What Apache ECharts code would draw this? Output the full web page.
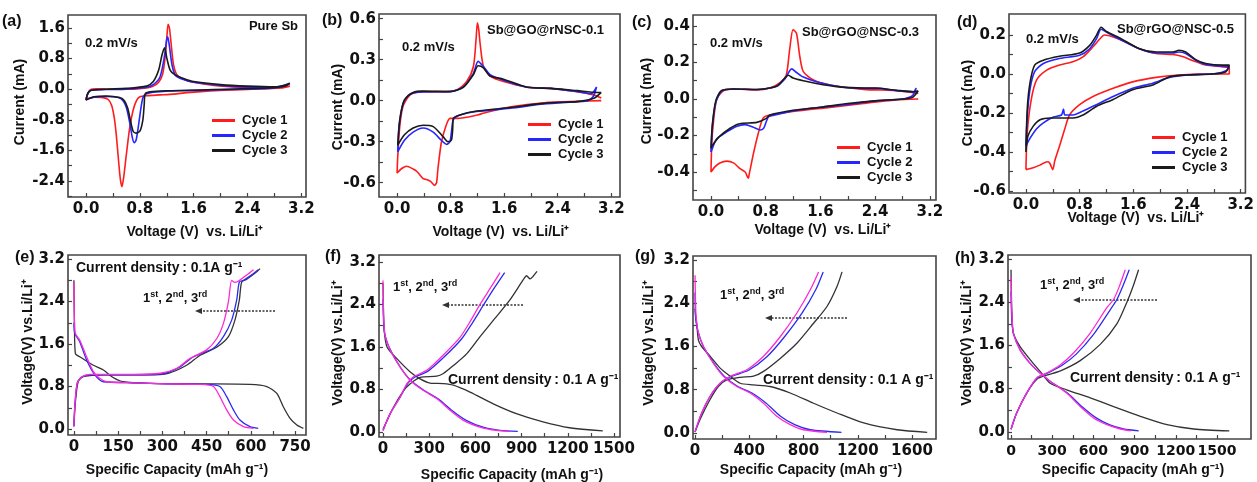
<!DOCTYPE html>
<html>
<head>
<meta charset="utf-8">
<script src="https://cdn.jsdelivr.net/npm/echarts@6/dist/echarts.min.js"></script>
<style>
  html, body { margin: 0; background: #fff; }
  #main { width: 1257px; height: 482px; }
</style>
</head>
<body>
<div id="main"></div>
<script>
// ---- CV curves: [voltage (V), current (mA)] ----
var aCycle1 = [[3.03,0.08],[2.9,0.03],[2.6,0.01],[2.2,-0.02],[1.8,-0.05],[1.5,-0.09],[1.3,-0.13],[1.1,-0.15],[0.9,-0.17],[0.8,-0.2],[0.75,-0.3],[0.7,-0.55],[0.65,-1.0],[0.6,-1.7],[0.56,-2.3],[0.535,-2.55],[0.51,-2.35],[0.48,-1.8],[0.45,-1.2],[0.42,-0.75],[0.38,-0.42],[0.33,-0.27],[0.25,-0.22],[0.12,-0.21],[0.0,-0.26],[0.03,-0.1],[0.07,-0.01],[0.15,0.01],[0.4,0.0],[0.7,0.0],[0.9,0.03],[1.0,0.08],[1.08,0.18],[1.14,0.4],[1.18,0.9],[1.205,1.45],[1.22,1.7],[1.24,1.6],[1.27,1.1],[1.3,0.65],[1.35,0.38],[1.45,0.26],[1.6,0.18],[1.9,0.1],[2.3,0.05],[2.7,0.03],[2.95,0.05],[3.03,0.08]];
var aCycle2 = [[3.03,0.16],[2.95,0.08],[2.7,0.02],[2.3,0.0],[1.9,-0.02],[1.5,-0.04],[1.2,-0.05],[1.0,-0.08],[0.9,-0.12],[0.85,-0.2],[0.82,-0.45],[0.78,-0.95],[0.745,-1.33],[0.72,-1.4],[0.69,-1.28],[0.65,-0.88],[0.6,-0.48],[0.55,-0.3],[0.48,-0.22],[0.3,-0.19],[0.12,-0.21],[0.0,-0.28],[0.03,-0.1],[0.08,-0.03],[0.3,-0.01],[0.6,0.0],[0.9,0.05],[1.0,0.12],[1.1,0.32],[1.16,0.8],[1.2,1.3],[1.215,1.37],[1.24,1.12],[1.28,0.62],[1.33,0.36],[1.45,0.25],[1.6,0.18],[2.0,0.1],[2.4,0.06],[2.8,0.05],[2.95,0.1],[3.03,0.16]];
var aCycle3 = [[3.03,0.15],[2.95,0.08],[2.7,0.03],[2.3,0.01],[1.9,-0.01],[1.5,-0.03],[1.2,-0.04],[0.95,-0.07],[0.88,-0.12],[0.865,-0.4],[0.845,-0.8],[0.8,-1.1],[0.74,-1.15],[0.7,-1.1],[0.66,-0.82],[0.62,-0.5],[0.57,-0.3],[0.5,-0.22],[0.3,-0.18],[0.12,-0.2],[0.0,-0.28],[0.03,-0.1],[0.08,-0.03],[0.3,0.0],[0.6,0.02],[0.9,0.08],[1.0,0.2],[1.08,0.5],[1.13,0.9],[1.17,1.08],[1.2,0.82],[1.25,0.5],[1.32,0.38],[1.45,0.28],[1.6,0.2],[2.0,0.12],[2.4,0.08],[2.8,0.06],[2.95,0.1],[3.03,0.15]];

var bCycle1 = [[3.05,0.0],[2.7,-0.005],[2.2,-0.015],[1.7,-0.045],[1.3,-0.09],[1.2,-0.105],[0.9,-0.13],[0.79,-0.13],[0.72,-0.2],[0.66,-0.31],[0.61,-0.5],[0.59,-0.6],[0.56,-0.62],[0.5,-0.59],[0.46,-0.58],[0.39,-0.57],[0.3,-0.52],[0.24,-0.5],[0.14,-0.48],[0.06,-0.5],[0.0,-0.53],[0.01,-0.41],[0.04,-0.19],[0.09,-0.04],[0.19,0.04],[0.34,0.066],[0.69,0.066],[0.89,0.078],[1.04,0.14],[1.14,0.25],[1.18,0.45],[1.2,0.57],[1.22,0.52],[1.24,0.42],[1.29,0.25],[1.39,0.18],[1.59,0.14],[1.94,0.1],[2.29,0.09],[2.69,0.066],[2.95,0.04],[3.05,0.02]];
var bCycle2 = [[2.98,0.1],[2.93,0.03],[2.85,0.0],[2.69,-0.007],[2.19,-0.025],[1.69,-0.056],[1.19,-0.08],[0.94,-0.105],[0.84,-0.14],[0.81,-0.24],[0.79,-0.3],[0.74,-0.32],[0.66,-0.29],[0.54,-0.23],[0.39,-0.2],[0.24,-0.23],[0.11,-0.29],[0.01,-0.375],[0.03,-0.19],[0.09,-0.02],[0.19,0.047],[0.39,0.064],[0.79,0.066],[0.99,0.1],[1.14,0.2],[1.21,0.287],[1.29,0.25],[1.39,0.19],[1.59,0.15],[1.94,0.098],[2.29,0.09],[2.69,0.066],[2.9,0.05],[2.98,0.1]];
var bCycle3 = [[3.05,0.06],[2.95,0.02],[2.8,0.0],[2.69,-0.007],[2.19,-0.02],[1.69,-0.05],[1.19,-0.076],[0.94,-0.105],[0.84,-0.13],[0.83,-0.215],[0.81,-0.29],[0.76,-0.3],[0.69,-0.265],[0.54,-0.19],[0.39,-0.18],[0.24,-0.2],[0.11,-0.25],[0.01,-0.326],[0.04,-0.14],[0.11,0.005],[0.24,0.06],[0.39,0.07],[0.79,0.066],[0.99,0.098],[1.14,0.19],[1.21,0.255],[1.29,0.24],[1.39,0.18],[1.59,0.157],[1.94,0.098],[2.29,0.09],[2.69,0.073],[2.99,0.06],[3.05,0.06]];

var cCycle1 = [[3.03,0.0],[2.71,-0.005],[2.23,-0.024],[1.74,-0.046],[1.25,-0.066],[0.86,-0.088],[0.76,-0.106],[0.69,-0.19],[0.62,-0.3],[0.56,-0.41],[0.545,-0.434],[0.5,-0.4],[0.42,-0.38],[0.33,-0.35],[0.23,-0.34],[0.13,-0.35],[0.06,-0.37],[0.0,-0.4],[0.01,-0.26],[0.03,-0.15],[0.08,-0.005],[0.18,0.045],[0.33,0.055],[0.67,0.05],[0.86,0.06],[1.01,0.09],[1.1,0.13],[1.15,0.27],[1.2,0.38],[1.25,0.36],[1.3,0.23],[1.35,0.15],[1.5,0.104],[1.74,0.077],[2.23,0.053],[2.71,0.046],[2.95,0.035],[3.03,0.03]];
var cCycle2 = [[3.0,0.06],[2.95,0.02],[2.8,0.0],[2.4,-0.01],[2.0,-0.03],[1.6,-0.045],[1.2,-0.065],[0.9,-0.09],[0.84,-0.097],[0.8,-0.133],[0.77,-0.16],[0.72,-0.17],[0.62,-0.155],[0.5,-0.14],[0.37,-0.15],[0.23,-0.18],[0.08,-0.22],[0.01,-0.28],[0.0,-0.29],[0.02,-0.15],[0.07,-0.02],[0.16,0.045],[0.33,0.055],[0.67,0.052],[0.96,0.07],[1.08,0.11],[1.18,0.165],[1.25,0.145],[1.35,0.12],[1.54,0.095],[1.84,0.07],[2.23,0.058],[2.42,0.058],[2.71,0.046],[2.96,0.04],[3.0,0.06]];
var cCycle3 = [[3.03,0.045],[2.95,0.01],[2.8,0.0],[2.4,-0.01],[2.0,-0.025],[1.6,-0.045],[1.2,-0.062],[0.86,-0.088],[0.81,-0.106],[0.67,-0.128],[0.42,-0.135],[0.28,-0.16],[0.11,-0.21],[0.01,-0.26],[0.0,-0.27],[0.02,-0.14],[0.07,-0.01],[0.15,0.045],[0.33,0.055],[0.67,0.052],[0.96,0.07],[1.08,0.115],[1.13,0.13],[1.2,0.115],[1.35,0.1],[1.54,0.085],[1.84,0.068],[2.23,0.06],[2.4,0.06],[2.71,0.048],[2.96,0.04],[3.03,0.045]];

var dCycle1 = [[0.0,-0.49],[0.02,-0.3],[0.08,-0.13],[0.16,-0.03],[0.31,0.02],[0.5,0.046],[0.7,0.063],[0.85,0.088],[1.0,0.14],[1.1,0.18],[1.17,0.2],[1.3,0.19],[1.49,0.164],[1.69,0.13],[1.94,0.105],[2.19,0.1],[2.33,0.09],[2.48,0.07],[2.68,0.046],[2.93,0.037],[3.03,0.03],[3.03,0.0],[2.68,0.0],[2.28,-0.005],[1.94,-0.017],[1.59,-0.04],[1.3,-0.073],[1.0,-0.115],[0.8,-0.157],[0.65,-0.21],[0.58,-0.28],[0.5,-0.37],[0.43,-0.445],[0.4,-0.49],[0.36,-0.46],[0.33,-0.45],[0.26,-0.457],[0.21,-0.467],[0.11,-0.48],[0.0,-0.49]];
var dCycle2 = [[0.0,-0.37],[0.02,-0.22],[0.06,-0.08],[0.13,0.012],[0.26,0.054],[0.5,0.08],[0.8,0.096],[0.95,0.13],[1.05,0.18],[1.12,0.23],[1.2,0.215],[1.39,0.18],[1.69,0.13],[1.94,0.108],[2.19,0.108],[2.28,0.113],[2.38,0.105],[2.53,0.071],[2.68,0.049],[2.93,0.04],[3.03,0.037],[2.98,0.017],[2.83,0.003],[2.43,-0.005],[2.14,-0.017],[1.89,-0.047],[1.59,-0.073],[1.3,-0.115],[1.05,-0.157],[0.85,-0.19],[0.7,-0.21],[0.58,-0.21],[0.56,-0.18],[0.53,-0.21],[0.41,-0.22],[0.26,-0.25],[0.16,-0.28],[0.06,-0.33],[0.0,-0.37]];
var dCycle3 = [[0.0,-0.4],[0.02,-0.18],[0.06,-0.047],[0.13,0.046],[0.26,0.071],[0.5,0.091],[0.8,0.108],[0.95,0.147],[1.05,0.198],[1.12,0.24],[1.2,0.218],[1.39,0.186],[1.69,0.13],[1.94,0.113],[2.19,0.113],[2.28,0.122],[2.38,0.113],[2.53,0.074],[2.68,0.054],[2.93,0.046],[3.03,0.046],[2.98,0.012],[2.78,0.0],[2.38,-0.005],[2.14,-0.014],[1.89,-0.056],[1.59,-0.08],[1.3,-0.13],[1.05,-0.166],[0.85,-0.21],[0.7,-0.225],[0.55,-0.225],[0.36,-0.225],[0.21,-0.234],[0.11,-0.267],[0.03,-0.318],[0.0,-0.4]];

// ---- charge/discharge curves: [capacity (mAh/g), voltage (V)] ----
var eDis1 = [[0,2.8],[2,1.9],[5,1.42],[20,1.36],[66,1.2],[100,1.11],[133,0.97],[167,0.89],[258,0.86],[428,0.85],[597,0.84],[654,0.8],[688,0.67],[710,0.42],[733,0.2],[756,0.075],[778,0.013]];
var eCha1 = [[0,0.05],[5,0.5],[15,0.9],[35,0.99],[100,1.02],[250,1.02],[320,1.05],[382,1.2],[428,1.39],[484,1.54],[524,1.74],[546,2.05],[561,2.43],[569,2.77],[586,2.82],[620,2.96],[631,3.02]];
var eDis2 = [[0,2.0],[3,1.8],[20,1.64],[43,1.3],[71,1.02],[100,0.89],[201,0.87],[314,0.85],[450,0.84],[495,0.8],[518,0.61],[541,0.36],[563,0.17],[597,0.044],[625,0.013]];
var eCha2 = [[0,0.05],[3,0.42],[11,0.86],[26,0.98],[60,1.02],[201,1.02],[300,1.04],[360,1.17],[405,1.36],[473,1.52],[507,1.74],[535,2.05],[552,2.43],[561,2.77],[575,2.8],[609,2.93],[625,3.0]];
var eDis3 = [[0,2.77],[2,2.0],[5,1.8],[20,1.67],[43,1.36],[66,1.08],[88,0.95],[111,0.89],[201,0.87],[314,0.85],[428,0.84],[473,0.8],[495,0.61],[518,0.36],[541,0.17],[575,0.044],[609,0.013]];
var eCha3 = [[0,0.05],[3,0.42],[11,0.86],[26,0.98],[54,1.03],[201,1.03],[292,1.05],[348,1.14],[394,1.33],[450,1.49],[484,1.7],[507,1.99],[524,2.4],[535,2.8],[546,2.76],[586,2.9],[609,3.0]];

var fDis1 = [[0,2.8],[3,2.3],[8,1.9],[26,1.6],[90,1.38],[177,1.13],[241,1.0],[306,0.92],[392,0.91],[457,0.88],[565,0.75],[716,0.53],[866,0.345],[1039,0.19],[1211,0.08],[1427,0.02]];
var fCha1 = [[0,0.05],[69,0.47],[134,0.78],[177,0.91],[241,1.03],[349,1.05],[392,1.1],[457,1.25],[543,1.47],[629,1.79],[716,2.1],[823,2.48],[910,2.86],[932,2.94],[955,2.88],[975,2.93],[1000,3.02]];
var fDis2 = [[0,2.5],[5,2.0],[15,1.8],[47,1.55],[112,1.22],[177,0.98],[263,0.79],[360,0.62],[450,0.4],[540,0.22],[650,0.09],[760,0.03],[875,0.012]];
var fCha2 = [[0,0.03],[47,0.35],[112,0.66],[160,0.91],[205,1.03],[290,1.14],[400,1.42],[510,1.75],[580,2.05],[655,2.4],[725,2.72],[790,3.0]];
var fDis3 = [[0,2.85],[2,2.4],[5,2.1],[15,1.79],[47,1.54],[112,1.22],[177,0.97],[263,0.78],[349,0.63],[435,0.41],[522,0.22],[629,0.094],[737,0.03],[823,0.013]];
var fCha3 = [[0,0.03],[47,0.35],[112,0.66],[155,0.91],[198,1.04],[284,1.16],[392,1.45],[500,1.78],[560,2.05],[630,2.4],[700,2.72],[760,3.0]];

var gDis1 = [[0,2.3],[5,2.15],[12,2.03],[25,1.72],[49,1.6],[111,1.42],[185,1.2],[259,1.05],[333,0.92],[431,0.89],[554,0.86],[702,0.74],[874,0.55],[1047,0.37],[1244,0.185],[1490,0.06],[1712,0.012]];
var gCha1 = [[0,0.02],[37,0.25],[111,0.62],[172,0.86],[234,0.98],[333,1.03],[431,1.05],[505,1.14],[628,1.38],[751,1.66],[874,2.03],[973,2.34],[1047,2.71],[1084,2.98]];
var gDis2 = [[0,2.6],[5,2.1],[25,1.85],[62,1.6],[135,1.3],[215,1.05],[315,0.86],[420,0.74],[525,0.55],[630,0.31],[735,0.154],[850,0.06],[1080,0.012]];
var gCha2 = [[0,0.02],[49,0.37],[111,0.68],[185,0.92],[262,1.04],[395,1.16],[530,1.41],[660,1.78],[790,2.22],[890,2.65],[945,2.98]];
var gDis3 = [[0,2.92],[3,2.5],[8,2.15],[25,1.85],[62,1.6],[135,1.29],[209,1.05],[308,0.86],[406,0.74],[505,0.55],[603,0.31],[702,0.154],[800,0.06],[973,0.012]];
var gCha3 = [[0,0.02],[49,0.37],[111,0.68],[185,0.92],[259,1.05],[382,1.17],[505,1.42],[628,1.78],[751,2.22],[850,2.65],[911,2.98]];

var hDis1 = [[0,3.0],[3,2.5],[8,2.1],[17,1.83],[66,1.58],[139,1.34],[212,1.12],[285,0.9],[406,0.78],[577,0.63],[747,0.47],[942,0.29],[1136,0.135],[1331,0.055],[1590,0.02]];
var hCha1 = [[0,0.05],[41,0.35],[114,0.72],[190,0.98],[260,1.05],[360,1.13],[504,1.32],[650,1.62],[771,2.0],[844,2.4],[890,2.7],[929,3.0]];
var hDis2 = [[0,2.6],[5,2.1],[17,1.83],[66,1.52],[139,1.27],[215,1.08],[290,0.93],[415,0.71],[520,0.46],[620,0.26],[720,0.13],[820,0.055],[930,0.02]];
var hCha2 = [[0,0.05],[41,0.35],[114,0.72],[190,1.0],[265,1.09],[370,1.23],[475,1.44],[600,1.8],[720,2.25],[771,2.45],[815,2.7],[861,3.0]];
var hDis3 = [[0,2.87],[3,2.4],[8,2.1],[17,1.83],[66,1.52],[139,1.27],[212,1.09],[285,0.94],[406,0.72],[504,0.47],[601,0.26],[698,0.135],[796,0.055],[873,0.02]];
var hCha3 = [[0,0.05],[41,0.35],[114,0.72],[187,1.0],[260,1.09],[358,1.24],[455,1.46],[577,1.83],[698,2.3],[747,2.45],[790,2.7],[832,3.0]];

// ---- ticks and tick labels ----
var cvXTicks = [0, 0.4, 0.8, 1.2, 1.6, 2.0, 2.4, 2.8, 3.2];
var cvXLabels = [0, 0.8, 1.6, 2.4, 3.2];
var aYTicks = [-2.8, -2.4, -2.0, -1.6, -1.2, -0.8, -0.4, 0, 0.4, 0.8, 1.2, 1.6];
var aYLabels = [-2.4, -1.6, -0.8, 0, 0.8, 1.6];
var bYTicks = [-0.6, -0.45, -0.3, -0.15, 0, 0.15, 0.3, 0.45, 0.6];
var bYLabels = [-0.6, -0.3, 0, 0.3, 0.6];
var cYTicks = [-0.5, -0.4, -0.3, -0.2, -0.1, 0, 0.1, 0.2, 0.3, 0.4];
var cYLabels = [-0.4, -0.2, 0, 0.2, 0.4];
var dYTicks = [-0.6, -0.5, -0.4, -0.3, -0.2, -0.1, 0, 0.1, 0.2];
var dYLabels = [-0.6, -0.4, -0.2, 0, 0.2];
var gcdYTicks = [0, 0.4, 0.8, 1.2, 1.6, 2.0, 2.4, 2.8, 3.2];
var gcdYLabels = [0, 0.8, 1.6, 2.4, 3.2];
var eXTicks = [0, 75, 150, 225, 300, 375, 450, 525, 600, 675, 750];
var eXLabels = [0, 150, 300, 450, 600, 750];
var fXTicks = [0, 150, 300, 450, 600, 750, 900, 1050, 1200, 1350, 1500];
var fXLabels = [0, 300, 600, 900, 1200, 1500];
var gXTicks = [0, 200, 400, 600, 800, 1000, 1200, 1400, 1600];
var gXLabels = [0, 400, 800, 1200, 1600];

var RED = '#ff1c1c', BLUE = '#2626ff', BLACK = '#1a1a1a';
var PINK = '#ff2ad4', GBLUE = '#2b2bf0', GBLACK = '#333333';

var chart = echarts.init(document.getElementById('main'));

var panels = [
  { rect: [68, 15, 238, 182], x: [-0.268, 3.27], y: [-2.82, 1.94], xt: cvXTicks, xl: cvXLabels, yt: aYTicks, yl: aYLabels, cv: true,
    lines: [[aCycle1, RED, 'Cycle 1'], [aCycle2, BLUE, 'Cycle 2'], [aCycle3, BLACK, 'Cycle 3']] },
  { rect: [379, 14, 241, 183], x: [-0.27, 3.33], y: [-0.705, 0.634], xt: cvXTicks, xl: cvXLabels, yt: bYTicks, yl: bYLabels, cv: true,
    lines: [[bCycle1, RED, 'Cycle 1'], [bCycle2, BLUE, 'Cycle 2'], [bCycle3, BLACK, 'Cycle 3']] },
  { rect: [693, 15, 243, 185], x: [-0.263, 3.29], y: [-0.553, 0.46], xt: cvXTicks, xl: cvXLabels, yt: cYTicks, yl: cYLabels, cv: true,
    lines: [[cCycle1, RED, 'Cycle 1'], [cCycle2, BLUE, 'Cycle 2'], [cCycle3, BLACK, 'Cycle 3']] },
  { rect: [1009, 14, 238, 179], x: [-0.252, 3.27], y: [-0.61, 0.308], xt: cvXTicks, xl: cvXLabels, yt: dYTicks, yl: dYLabels, cv: true,
    lines: [[dCycle1, RED, 'Cycle 1'], [dCycle2, BLUE, 'Cycle 2'], [dCycle3, BLACK, 'Cycle 3']] },
  { rect: [68, 255, 238, 180], x: [-20, 787], y: [-0.113, 3.277], xt: eXTicks, xl: eXLabels, yt: gcdYTicks, yl: gcdYLabels,
    lines: [[eDis1, GBLACK, '1st'], [eCha1, GBLACK, '1st'], [eDis2, GBLUE, '2nd'], [eCha2, GBLUE, '2nd'], [eDis3, PINK, '3rd'], [eCha3, PINK, '3rd']] },
  { rect: [379, 255, 241, 182], x: [-26, 1539], y: [-0.094, 3.33], xt: fXTicks, xl: fXLabels, yt: gcdYTicks, yl: gcdYLabels,
    lines: [[fDis1, GBLACK, '1st'], [fCha1, GBLACK, '1st'], [fDis2, GBLUE, '2nd'], [fCha2, GBLUE, '2nd'], [fDis3, PINK, '3rd'], [fCha3, PINK, '3rd']] },
  { rect: [693, 256, 243, 183], x: [-15, 1777], y: [-0.111, 3.274], xt: gXTicks, xl: gXLabels, yt: gcdYTicks, yl: gcdYLabels,
    lines: [[gDis1, GBLACK, '1st'], [gCha1, GBLACK, '1st'], [gDis2, GBLUE, '2nd'], [gCha2, GBLUE, '2nd'], [gDis3, PINK, '3rd'], [gCha3, PINK, '3rd']] },
  { rect: [1008, 255, 243, 184], x: [-22, 1748], y: [-0.13, 3.274], xt: fXTicks, xl: fXLabels, yt: gcdYTicks, yl: gcdYLabels, xfs: 14,
    lines: [[hDis1, GBLACK, '1st'], [hCha1, GBLACK, '1st'], [hDis2, GBLUE, '2nd'], [hCha2, GBLUE, '2nd'], [hDis3, PINK, '3rd'], [hCha3, PINK, '3rd']] }
];

var grids = [], xAxes = [], yAxes = [], series = [];
var tickFont = { fontFamily: 'DejaVu Sans', fontWeight: 'bold', fontSize: 15, color: '#111' };

panels.forEach(function (p, i) {
  grids.push({ left: p.rect[0], top: p.rect[1], width: p.rect[2], height: p.rect[3],
    show: true, borderColor: '#444', borderWidth: 1.6, backgroundColor: 'transparent' });
  xAxes.push({
    type: 'value', gridIndex: i, min: p.x[0], max: p.x[1], position: 'bottom',
    axisLine: { show: false, onZero: false }, splitLine: { show: false },
    axisTick: { show: true, inside: true, length: 4, customValues: p.xt, lineStyle: { color: '#444', width: 1.2 } },
    axisLabel: Object.assign({}, tickFont, { customValues: p.xl, margin: 5, hideOverlap: false,
      fontSize: p.xfs || 15,
      formatter: function (v) { return p.cv ? v.toFixed(1) : String(Math.round(v)); } })
  });
  yAxes.push({
    type: 'value', gridIndex: i, min: p.y[0], max: p.y[1], position: 'left',
    axisLine: { show: false, onZero: false }, splitLine: { show: false },
    axisTick: { show: true, inside: true, length: 4, customValues: p.yt, lineStyle: { color: '#444', width: 1.2 } },
    axisLabel: Object.assign({}, tickFont, { customValues: p.yl, margin: 3,
      formatter: function (v) { return v.toFixed(1); } })
  });
  p.lines.forEach(function (l) {
    series.push({
      type: 'line', name: l[2], xAxisIndex: i, yAxisIndex: i, data: l[0],
      showSymbol: false, symbol: 'none', smooth: 0.25, silent: true,
      lineStyle: { color: l[1], width: p.cv ? 1.6 : 1.3 }, itemStyle: { color: l[1] }
    });
  });
});

var BF = 'bold 13px "Liberation Sans", Arial, sans-serif';
var BF14 = 'bold 14px "Liberation Sans", Arial, sans-serif';
var BF16 = 'bold 16px "Liberation Sans", Arial, sans-serif';
function txt(s, x, y, font, align, rot) {
  return { type: 'text', x: x, y: y, rotation: rot || 0, silent: true,
    style: { text: s, font: font, fill: '#111', align: align || 'left', verticalAlign: 'middle' } };
}
function ord(x, y) {
  return { type: 'text', x: x, y: y, silent: true,
    style: { text: '1{s|st}, 2{s|nd}, 3{s|rd}', font: BF, fill: '#111', align: 'left', verticalAlign: 'middle',
      rich: { s: { fontSize: 9, fontWeight: 'bold', fontFamily: 'Liberation Sans', verticalAlign: 'top', lineHeight: 16 } } } };
}
function arrow(x1, x2, y) {
  return [
    { type: 'line', silent: true, shape: { x1: x1, y1: y, x2: x2 + 5, y2: y },
      style: { stroke: '#333', lineWidth: 1.4, lineDash: [2, 1.5] } },
    { type: 'polygon', silent: true, shape: { points: [[x2, y], [x2 + 7, y - 3], [x2 + 7, y + 3]] },
      style: { fill: '#333' } }
  ];
}
var VT = 'Voltage (V)  vs. Li/Li\u207A';
var SC = 'Specific Capacity (mAh g\u207B\u00B9)';
var VY = 'Voltage(V) vs.Li/Li\u207A';
var CD = 'Current density\u2009: 0.1 A g\u207B\u00B9';

var graphics = [
  txt('(a)', 2, 22, BF16), txt('Pure Sb', 298, 26, BF, 'right'), txt('0.2 mV/s', 85, 43, BF),
  txt('(b)', 322, 21, BF16), txt('Sb@GO@rNSC-0.1', 487, 30, BF), txt('0.2 mV/s', 402, 47, BF),
  txt('(c)', 632, 23, BF16), txt('Sb@rGO@NSC-0.3', 802, 32, BF), txt('0.2 mV/s', 710, 43, BF),
  txt('(d)', 957, 23, BF16), txt('Sb@rGO@NSC-0.5', 1117, 29, BF), txt('0.2 mV/s', 1026, 39, BF),
  txt('Current (mA)', 20, 102, BF14, 'center', Math.PI / 2),
  txt('Current (mA)', 338, 107, BF14, 'center', Math.PI / 2),
  txt('Current (mA)', 647, 101, BF14, 'center', Math.PI / 2),
  txt('Current (mA)', 968, 103, BF14, 'center', Math.PI / 2),
  txt(VT, 195, 232, BF14, 'center'), txt(VT, 501, 232, BF14, 'center'),
  txt(VT, 823, 230, BF14, 'center'), txt(VT, 1136, 218, BF14, 'center'),
  txt('(e)', 15, 258, BF16), txt('(f)', 325, 257, BF16), txt('(g)', 635, 257, BF16), txt('(h)', 955, 259, BF16),
  txt(VY, 28, 342, BF14, 'center', Math.PI / 2), txt(VY, 338, 343, BF14, 'center', Math.PI / 2),
  txt(VY, 649, 343, BF14, 'center', Math.PI / 2), txt(VY, 967, 343, BF14, 'center', Math.PI / 2),
  txt(SC, 177, 470, BF14, 'center'), txt(SC, 512, 475, BF14, 'center'),
  txt(SC, 811, 470, BF14, 'center'), txt(SC, 1133, 470, BF14, 'center'),
  txt('Current density\u2009: 0.1A g\u207B\u00B9', 76, 268, BF14), ord(143, 298),
  ord(393, 287), txt(CD, 448, 380, BF14),
  ord(720, 295), txt(CD, 763, 380, BF14),
  ord(1040, 285), txt(CD, 1070, 378, BF14)
].concat(arrow(275, 195, 311), arrow(523, 442, 305), arrow(847, 765, 318), arrow(1157, 1073, 300));

function legendAt(left, top) {
  return { left: left, top: top, orient: 'vertical', itemGap: 2, itemWidth: 23, itemHeight: 3, icon: 'rect',
    selectedMode: false, data: ['Cycle 1', 'Cycle 2', 'Cycle 3'],
    textStyle: { fontFamily: 'Liberation Sans', fontWeight: 'bold', fontSize: 13, color: '#111', padding: [0, 0, 0, 2] } };
}

chart.setOption({
  animation: false,
  backgroundColor: '#fff',
  grid: grids, xAxis: xAxes, yAxis: yAxes, series: series,
  legend: [legendAt(207, 109), legendAt(523, 113), legendAt(832, 136), legendAt(1147, 126)],
  graphic: graphics
});
</script>
</body>
</html>
